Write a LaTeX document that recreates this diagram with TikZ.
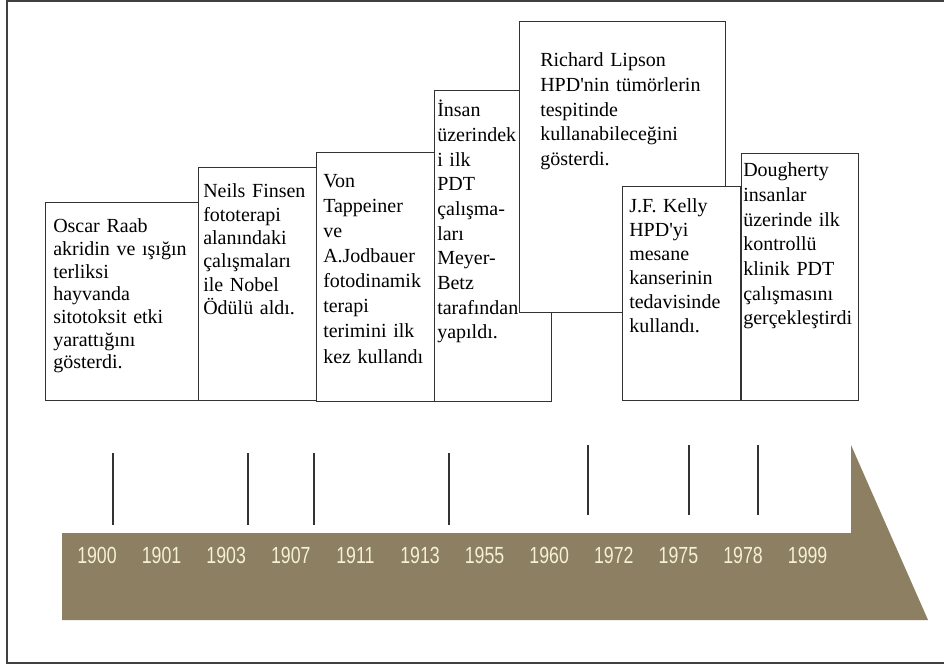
\documentclass[tikz,border=0pt]{standalone}
\usepackage{fontspec}
\setmainfont{Liberation Serif}
\newfontfamily\yearfont[FakeStretch=0.76]{Liberation Sans}
\usepackage{tikz}
\usetikzlibrary{calc}
\definecolor{bandbrown}{RGB}{140,127,98}
\definecolor{yearcream}{RGB}{246,241,212}

\begin{document}
\begin{tikzpicture}[x=0.75pt,y=-0.75pt,
  evbox/.style 2 args={draw=black!80,line width=1.1pt,fill=white,anchor=north west,
    inner sep=0pt,minimum width=#1*0.75pt,minimum height=#2*0.75pt},
  evtext/.style={anchor=base west,inner sep=0pt,text width=300pt,align=left,
    font=\fontsize{15}{#1}\selectfont},
  evtext/.default=18.5pt,
  year/.style={anchor=base,inner sep=0pt,text=yearcream,font=\yearfont\fontsize{17.5}{19}\selectfont}]
\useasboundingbox (0,0) rectangle (944,666);
\draw[black!75,line width=1.2pt] (944,0.8) -- (7,0.8) -- (7,663) -- (944,663);

\node[evbox={153}{198}] (b1) at (45,202) {};
\node[evtext=17pt] (t1) at ($(b1.north west)+(8,31)$)
  {Oscar Raab\\akridin ve ışığın\\terliksi\\hayvanda\\sitotoksit etki\\yarattığını\\gösterdi.};
\node[evbox={118}{233}] (b2) at (198,167) {};
\node[evtext=17.5pt] (t2) at ($(b2.north west)+(5,31)$)
  {Neils Finsen\\fototerapi\\alanındaki\\çalışmaları\\ile Nobel\\Ödülü aldı.};
\node[evbox={118}{249}] (b3) at (316,152) {};
\node[evtext=18.75pt] (t3) at ($(b3.north west)+(7,36)$)
  {Von\\Tappeiner\\ve\\A.Jodbauer\\fotodinamik\\terapi\\terimini ilk\\kez kullandı};
\node[evbox={117}{311}] (b4) at (434,90) {};
\node[evtext] (t4) at ($(b4.north west)+(3,27)$)
  {İnsan\\üzerindek\\i ilk\\PDT\\çalışma-\\ları\\Meyer-\\Betz\\tarafından\\yapıldı.};
\node[evbox={206}{291}] (b5) at (519,21) {};
\node[evtext] (t5) at ($(b5.north west)+(21,46)$)
  {Richard Lipson\\HPD\textquotesingle nin tümörlerin\\tespitinde\\kullanabileceğini\\gösterdi.};
\node[evbox={118}{214}] (b6) at (622,186) {};
\node[evtext=18pt] (t6) at ($(b6.north west)+(7,27)$)
  {J.F. Kelly\\HPD\textquotesingle yi\\mesane\\kanserinin\\tedavisinde\\kullandı.};
\node[evbox={117}{247}] (b7) at (741,153) {};
\node[evtext] (t7) at ($(b7.north west)+(2,24)$)
  {Dougherty\\insanlar\\üzerinde ilk\\kontrollü\\klinik PDT\\çalışmasını\\gerçekleştirdi};

\foreach \tx in {113,248,314,449}
  \draw[black!80,line width=1pt] (\tx,453) -- (\tx,525);
\foreach \tx in {588,689,758}
  \draw[black!80,line width=1pt] (\tx,445) -- (\tx,515);

\fill[bandbrown] (62,533) -- (851,533) -- (851,445) -- (928,620) -- (62,620) -- cycle;
\foreach \yr [count=\i from 0] in {1900,1901,1903,1907,1911,1913,1955,1960,1972,1975,1978,1999}
  \node[year] (y\yr) at ({97+64.6*\i},563) {\yr};
\end{tikzpicture}
\end{document}
